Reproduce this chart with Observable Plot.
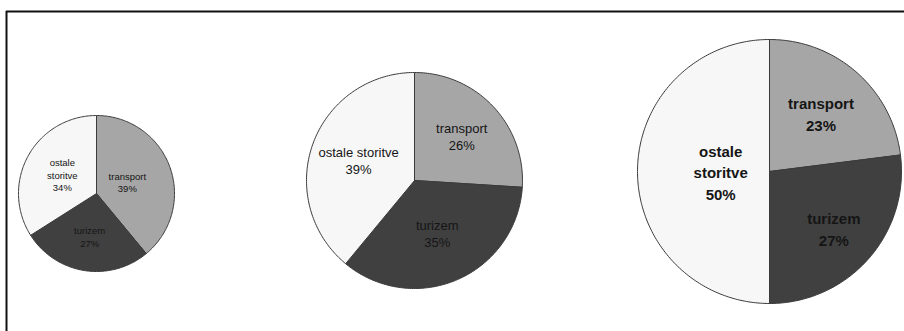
<!DOCTYPE html>
<html>
<head>
<meta charset="utf-8">
<script src="https://cdn.jsdelivr.net/npm/d3@7"></script>
<script src="https://cdn.jsdelivr.net/npm/@observablehq/plot@0.6"></script>
<style>
  html, body { margin: 0; padding: 0; background: #fff; }
  #chart svg { display: block; }
</style>
</head>
<body>
<div id="chart"></div>
<script>
// ---- data ----
const categories = ["transport", "turizem", "ostale storitve"];
const values1 = [39, 27, 34];
const values2 = [26, 35, 39];
const values3 = [23, 27, 50];
const labels1 = ["transport", "turizem", "ostale\nstoritve"];
const labels2 = ["transport", "turizem", "ostale storitve"];
const labels3 = ["transport", "turizem", "ostale\nstoritve"];
const colors = ["#a6a6a6", "#404040", "#f7f7f7"];

// ---- layout ----
const W = 904, H = 331;
const pies = [
  {values: values1, labels: labels1, cx: 96,  cy: 193, r: 78,  fontSize: 9.5, weight: "normal", lh: 1.28, labelR: [0.42, 0.56, 0.5]},
  {values: values2, labels: labels2, cx: 414, cy: 180, r: 108, fontSize: 13,  weight: "normal", lh: 1.3,  labelR: [0.6, 0.53, 0.55]},
  {values: values3, labels: labels3, cx: 769, cy: 171, r: 132, fontSize: 15,  weight: "bold",   lh: 1.42, labelR: [0.59, 0.65, 0.37]}
];

const slicePts = [];
const labelRows = pies.map(() => []);
pies.forEach((p, pi) => {
  const total = d3.sum(p.values);
  let cum = 0;
  p.values.forEach((v, i) => {
    const a0 = cum / total * 2 * Math.PI;
    const a1 = (cum + v) / total * 2 * Math.PI;
    cum += v;
    const key = pi + "-" + i;
    slicePts.push({key, cat: categories[i], x: p.cx, y: p.cy});
    const n = Math.max(2, Math.ceil((a1 - a0) / (Math.PI / 180)) + 1);
    for (let k = 0; k < n; k++) {
      const a = a0 + (a1 - a0) * k / (n - 1);
      slicePts.push({key, cat: categories[i], x: p.cx + p.r * Math.sin(a), y: p.cy - p.r * Math.cos(a)});
    }
    slicePts.push({key, cat: categories[i], x: p.cx, y: p.cy});
    const am = (a0 + a1) / 2;
    const lr = p.labelR[i] * p.r;
    labelRows[pi].push({
      x: p.cx + lr * Math.sin(am),
      y: p.cy - lr * Math.cos(am),
      text: p.labels[i] + "\n" + Math.round(v / total * 100) + "%"
    });
  });
});

const chart = Plot.plot({
  width: W,
  height: H,
  margin: 0,
  x: {domain: [0, W], range: [0, W], axis: null},
  y: {domain: [0, H], range: [0, H], axis: null},
  color: {domain: categories, range: colors},
  style: {fontFamily: "'Liberation Sans', Arial, sans-serif", background: "#fff"},
  marks: [
    Plot.ruleY([11], {x1: 6, x2: W, stroke: "#111", strokeWidth: 2}),
    Plot.ruleX([6], {y1: 11, y2: H, stroke: "#111", strokeWidth: 2}),
    Plot.line(slicePts, {x: "x", y: "y", z: "key", fill: "cat", stroke: "#3a3a3a", strokeWidth: 1, strokeLinejoin: "round"}),
    ...pies.map((p, pi) => Plot.text(labelRows[pi], {
      x: "x", y: "y", text: "text",
      fontSize: p.fontSize, fontWeight: p.weight, lineHeight: p.lh,
      fill: "#151515", textAnchor: "middle"
    }))
  ]
});
document.getElementById("chart").appendChild(chart);
</script>
</body>
</html>
